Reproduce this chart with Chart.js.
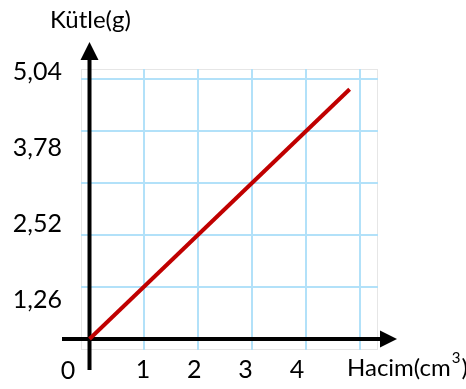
<!DOCTYPE html>
<html>
<head>
<meta charset="utf-8">
<script src="https://cdn.jsdelivr.net/npm/chart.js@4/dist/chart.umd.min.js"></script>
<style>
html,body{margin:0;padding:0;background:#fff;}
#wrap{width:466px;height:389px;}
</style>
</head>
<body>
<div id="wrap"><canvas id="c" width="466" height="389"></canvas></div>
<script>
// Data
const volume = [0, 4.8];            // Hacim (cm³)
const mass = [0, 6.05];             // Kütle (g)
// Grid positions and tick labels
const xGridValues = [1, 2, 3, 4, 5];
const yGridValues = [1.26, 2.52, 3.78, 5.04, 6.3];
const xTickLabels = [1, 2, 3, 4];
const yTickLabels = [1.26, 2.52, 3.78, 5.04];
const originLabel = '0';
const yTitle = 'Kütle(g)';
const xTitle = 'Hacim(cm';
const xTitleSup = '3';

const FONT = 'Lato, "Liberation Sans", sans-serif';
const GRID = '#B2E1F9';

const points = volume.map((v, i) => ({x: v, y: mass[i]}));

const axesPlugin = {
  id: 'axesPlugin',
  beforeDraw(chart) {
    const {ctx, chartArea: a} = chart;
    ctx.save();
    ctx.strokeStyle = '#E6E6E6';
    ctx.lineWidth = 1;
    ctx.strokeRect(a.left + 0.5, a.top + 0.5, a.right - a.left - 1, a.bottom - a.top - 1);
    ctx.restore();
  },
  beforeDatasetsDraw(chart) {
    const {ctx} = chart;
    const xs = chart.scales.x, ys = chart.scales.y;
    const ox = xs.getPixelForValue(0), oy = ys.getPixelForValue(0);
    ctx.save();
    ctx.strokeStyle = '#000';
    ctx.fillStyle = '#000';
    ctx.lineWidth = 4;
    // y axis
    ctx.beginPath();
    ctx.moveTo(ox, 370);
    ctx.lineTo(ox, 58);
    ctx.stroke();
    ctx.beginPath();
    ctx.moveTo(ox, 42);
    ctx.lineTo(ox - 9, 60);
    ctx.lineTo(ox + 9, 60);
    ctx.closePath();
    ctx.fill();
    // x axis
    ctx.beginPath();
    ctx.moveTo(62, oy);
    ctx.lineTo(383, oy);
    ctx.stroke();
    ctx.beginPath();
    ctx.moveTo(397, oy);
    ctx.lineTo(380, oy - 8.5);
    ctx.lineTo(380, oy + 8.5);
    ctx.closePath();
    ctx.fill();
    ctx.restore();
  },
  afterDraw(chart) {
    const {ctx} = chart;
    ctx.save();
    ctx.fillStyle = '#000';
    ctx.textBaseline = 'alphabetic';
    ctx.font = '24px ' + FONT;
    ctx.textAlign = 'left';
    ctx.fillText(yTitle, 50, 28);
    ctx.fillText(xTitle, 347, 376);
    const w = ctx.measureText(xTitle).width;
    ctx.font = '15px ' + FONT;
    ctx.fillText(xTitleSup, 347 + w + 1, 363);
    const w2 = ctx.measureText(xTitleSup).width;
    ctx.font = '24px ' + FONT;
    ctx.fillText(')', 347 + w + w2 + 2, 376);
    ctx.font = '25px ' + FONT;
    ctx.textAlign = 'center';
    ctx.fillText(originLabel, 68, 379);
    ctx.restore();
  }
};

new Chart(document.getElementById('c'), {
  type: 'line',
  data: {
    datasets: [{
      data: points,
      borderColor: '#C00000',
      borderWidth: 4,
      pointRadius: 0,
      fill: false,
      tension: 0
    }]
  },
  options: {
    responsive: false,
    animation: false,
    events: [],
    layout: {padding: {top: 69, right: 88, left: 0, bottom: 0}},
    plugins: {legend: {display: false}, tooltip: {enabled: false}},
    scales: {
      x: {
        type: 'linear', position: 'bottom',
        min: -0.157, max: 5.323,
        afterBuildTicks: s => { s.ticks = xGridValues.map(v => ({value: v})); },
        afterFit: s => { s.height = 0; },
        grid: {color: GRID, lineWidth: 2, drawTicks: false},
        border: {display: false},
        ticks: {display: false}
      },
      xLabels: {
        type: 'linear', position: 'bottom',
        min: -0.209, max: 5.581,
        afterBuildTicks: s => { s.ticks = xTickLabels.map(v => ({value: v})); },
        afterFit: s => { s.height = 39; },
        grid: {display: false, drawTicks: false},
        border: {display: false},
        ticks: {padding: 5, color: '#000', font: {family: FONT, size: 25}, maxRotation: 0, autoSkip: false,
                callback: v => String(v)}
      },
      y: {
        type: 'linear', position: 'left',
        min: -0.2666, max: 6.542,
        afterBuildTicks: s => { s.ticks = yGridValues.map(v => ({value: v})); },
        afterFit: s => { s.width = 0; },
        grid: {color: GRID, lineWidth: 2, drawTicks: false},
        border: {display: false},
        ticks: {display: false}
      },
      yLabels: {
        type: 'linear', position: 'left',
        min: 0.431, max: 5.09,
        afterBuildTicks: s => { s.ticks = yTickLabels.map(v => ({value: v})); },
        afterFit: s => { s.width = 81; },
        grid: {display: false, drawTicks: false},
        border: {display: false},
        ticks: {padding: 19, color: '#000', font: {family: FONT, size: 25}, autoSkip: false,
                callback: v => v.toFixed(2).replace('.', ',')}
      }
    }
  },
  plugins: [axesPlugin]
});
</script>
</body>
</html>
